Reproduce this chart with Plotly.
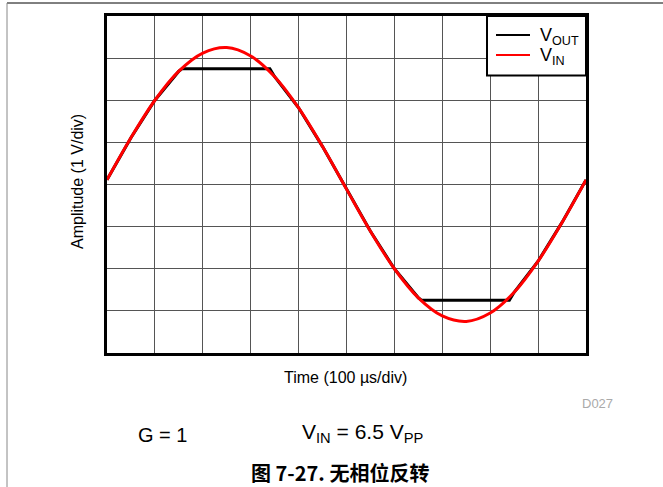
import plotly.graph_objects as go

# time in divisions (100 us/div), amplitude in volts (1 V/div)
t_in = [0, 0.5, 1, 1.5, 2, 2.5, 3, 3.5, 4, 4.5, 5,
        5.5, 6, 6.5, 7, 7.5, 8, 8.5, 9, 9.5, 10]
v_in = [0.11, 1.11, 2.00, 2.69, 3.12, 3.25, 3.05, 2.56, 1.82, 0.90, -0.11,
        -1.11, -2.00, -2.69, -3.12, -3.25, -3.05, -2.56, -1.82, -0.90, 0.11]

t_out = [0, 0.5, 1, 1.5, 1.57, 3.40, 3.5, 4, 4.5, 5,
         5.5, 6, 6.5, 6.57, 8.40, 8.5, 9, 9.5, 10]
v_out = [0.11, 1.11, 2.00, 2.69, 2.75, 2.75, 2.56, 1.82, 0.90, -0.11,
         -1.11, -2.00, -2.69, -2.75, -2.75, -2.56, -1.82, -0.90, 0.11]

names = ["V<sub>OUT</sub>", "V<sub>IN</sub>"]
colors = ["black", "#ff0000"]

W, H = 663, 487
L, R, T, B = 107, 586, 16, 353
pw, ph = R - L, B - T


def px(x):
    return (x - L) / pw


def py(y):
    return (B - y) / ph


fig = go.Figure()
fig.add_trace(go.Scatter(x=t_out, y=v_out, mode="lines", name=names[0],
                         line=dict(color=colors[0], width=3)))
fig.add_trace(go.Scatter(x=t_in, y=v_in, mode="lines", name=names[1],
                         line=dict(color=colors[1], width=3, shape="spline")))

axis = dict(showticklabels=False, ticks="", showgrid=True, gridcolor="#555555",
            gridwidth=1, zeroline=False, showline=True, linecolor="black",
            linewidth=3, mirror=True)
fig.update_xaxes(range=[0, 10], dtick=1, **axis)
fig.update_yaxes(range=[-4, 4], dtick=1, **axis)

fig.update_layout(
    width=W, height=H,
    margin=dict(l=L, r=W - R, t=T, b=H - B),
    paper_bgcolor="white", plot_bgcolor="white",
    font=dict(family="Liberation Sans, Arial, sans-serif", size=16, color="black"),
    showlegend=False,
)

# legend box drawn by hand so it sits exactly like the scope screenshot
fig.add_shape(type="rect", xref="paper", yref="paper",
              x0=px(487), x1=px(586), y0=py(75.5), y1=py(16),
              fillcolor="white", line=dict(color="black", width=2), layer="above")
for i, (nm, c) in enumerate(zip(names, colors)):
    yy = 35 + 20 * i
    fig.add_shape(type="line", xref="paper", yref="paper",
                  x0=px(496), x1=px(530), y0=py(yy), y1=py(yy),
                  line=dict(color=c, width=2), layer="above")
    fig.add_annotation(xref="paper", yref="paper", x=px(538), y=py(yy + 1),
                       text=nm, showarrow=False, xanchor="left", yanchor="middle",
                       font=dict(size=18))

anns = [
    dict(text="Amplitude (1 V/div)", x=px(77), y=py(182), textangle=-90, font=dict(size=16)),
    dict(text="Time (100 µs/div)", x=px(345), y=py(377), font=dict(size=16)),
    dict(text="D027", x=px(597), y=py(403), font=dict(size=13, color="#aaaaaa")),
    dict(text="G = 1", x=px(162), y=py(435), font=dict(size=20)),
    dict(text="V<sub>IN</sub> = 6.5 V<sub>PP</sub>", x=px(362), y=py(433), font=dict(size=21)),
    dict(text="<b>图 7-27. 无相位反转</b>", x=px(340), y=py(472),
         font=dict(size=20, family="Noto Sans CJK SC, Liberation Sans, sans-serif")),
]
for a in anns:
    fig.add_annotation(xref="paper", yref="paper", showarrow=False,
                       xanchor="center", yanchor="middle", **a)

# page border lines
fig.add_shape(type="line", xref="paper", yref="paper",
              x0=px(7), x1=px(663), y0=py(3), y1=py(3),
              line=dict(color="black", width=1))
fig.add_shape(type="line", xref="paper", yref="paper",
              x0=px(7), x1=px(7), y0=py(3), y1=py(487),
              line=dict(color="#888888", width=1))

fig.write_html("out.html", config={"displayModeBar": False},
               post_script="document.body.style.margin='0';")
